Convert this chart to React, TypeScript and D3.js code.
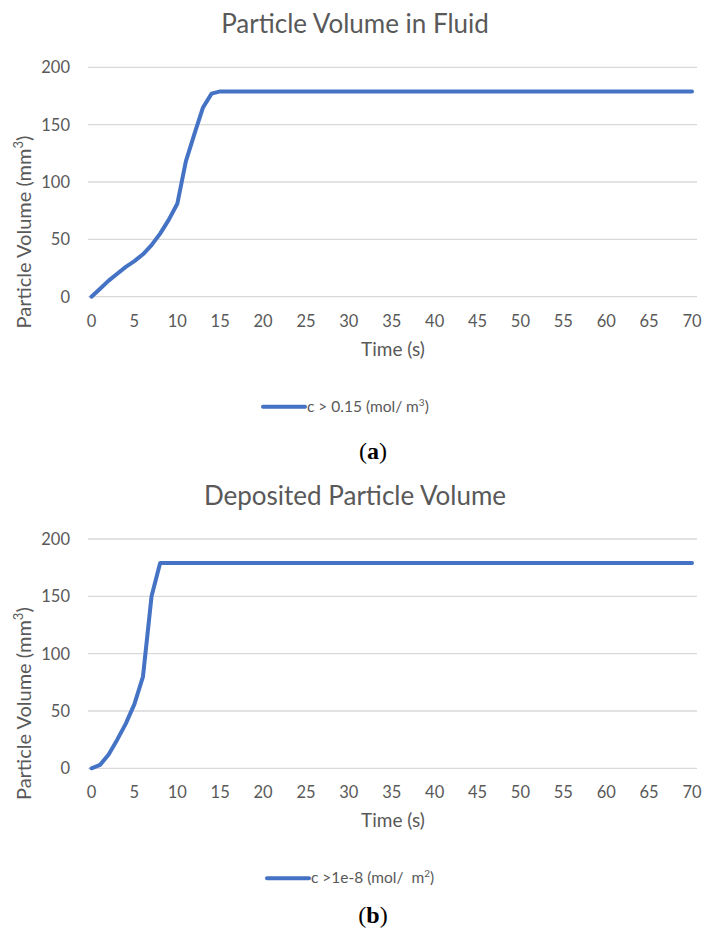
import React from "react";
import * as d3 from "d3";

// panel (a): particle volume in fluid
const fluidTime = [0, 1, 2, 3, 4, 5, 6, 7, 8, 9, 10, 11, 12, 13, 14, 15, 20, 25, 30, 35, 40, 45, 50, 55, 60, 65, 70];
const fluidVolume = [0, 7, 14, 20, 26, 31, 37, 45, 55, 67, 81, 118, 142, 165, 177, 179, 179, 179, 179, 179, 179, 179, 179, 179, 179, 179, 179];

// panel (b): deposited particle volume
const depositTime = [0, 1, 2, 3, 4, 5, 6, 7, 8, 10, 15, 20, 25, 30, 35, 40, 45, 50, 55, 60, 65, 70];
const depositVolume = [0, 3, 12, 25, 39, 56, 80, 150, 179, 179, 179, 179, 179, 179, 179, 179, 179, 179, 179, 179, 179, 179];

const xTicks = [0, 5, 10, 15, 20, 25, 30, 35, 40, 45, 50, 55, 60, 65, 70];
const yTicks = [0, 50, 100, 150, 200];

const BLUE = "#4472C4";
const GREY = "#595959";
const FONT = "Lato, 'Open Sans', sans-serif";

type PanelProps = {
  top: number; // y pixel of value 200
  bottom: number; // y pixel of value 0
  title: string;
  times: number[];
  values: number[];
  legend: React.ReactNode;
  legendX: number;
  caption: string;
};

function Panel({ top, bottom, title, times, values, legend, legendX, caption }: PanelProps) {
  const x = d3.scaleLinear().domain([0, 70]).range([91.5, 692]);
  const y = d3.scaleLinear().domain([0, 200]).range([bottom, top]);
  const line = d3
    .line<number>()
    .x((_, i) => x(times[i]))
    .y(d => y(d));

  const legendY = bottom + 110;

  return (
    <g>
      <text x={355} y={top - 34} textAnchor="middle" fontFamily={FONT} fontSize={26} fill={GREY}>
        {title}
      </text>
      {yTicks.map(t => (
        <g key={t}>
          <line x1={88} x2={697} y1={y(t)} y2={y(t)} stroke="#d9d9d9" strokeWidth={1.3} />
          <text x={70} y={y(t) + 6} textAnchor="end" fontFamily={FONT} fontSize={16.5} fill={GREY}>
            {t}
          </text>
        </g>
      ))}
      {xTicks.map(t => (
        <text key={t} x={x(t)} y={bottom + 30} textAnchor="middle" fontFamily={FONT} fontSize={16.5} fill={GREY}>
          {t}
        </text>
      ))}
      <text x={393} y={bottom + 59} textAnchor="middle" fontFamily={FONT} fontSize={19} fill={GREY}>
        Time (s)
      </text>
      <text
        transform={`translate(31, ${(top + bottom) / 2 + 50}) rotate(-90)`}
        textAnchor="middle"
        fontFamily={FONT}
        fontSize={20}
        fill={GREY}
      >
        Particle Volume (mm<tspan fontSize={13} dy={-8}>3</tspan>
        <tspan dy={8}>)</tspan>
      </text>
      <path d={line(values) || ""} fill="none" stroke={BLUE} strokeWidth={4} strokeLinejoin="round" strokeLinecap="round" />
      <line x1={legendX} x2={legendX + 42} y1={legendY} y2={legendY} stroke={BLUE} strokeWidth={4} strokeLinecap="round" />
      <text x={legendX + 44} y={legendY + 5} fontFamily={FONT} fontSize={15.5} fill={GREY}>
        {legend}
      </text>
      <text
        x={373}
        y={legendY + (caption === "(a)" ? 52 : 45)}
        textAnchor="middle"
        fontFamily="'Liberation Serif', serif"
        fontSize={24}
        fill="#000"
      >
        (<tspan fontWeight="bold">{caption.slice(1, -1)}</tspan>)
      </text>
    </g>
  );
}

export default function App() {
  return (
    <svg width={705} height={928} style={{ position: "absolute", left: 0, top: 0, background: "#fff" }}>
      <Panel
        top={67.3}
        bottom={296.7}
        title="Particle Volume in Fluid"
        times={fluidTime}
        values={fluidVolume}
        legendX={263}
        caption="(a)"
        legend={
          <>
            c &gt; 0.15 (mol/ m<tspan fontSize={10} dy={-6}>3</tspan>
            <tspan dy={6}>)</tspan>
          </>
        }
      />
      <Panel
        top={539}
        bottom={768.3}
        title="Deposited Particle Volume"
        times={depositTime}
        values={depositVolume}
        legendX={267}
        caption="(b)"
        legend={
          <>
            c &gt;1e-8 (mol/{"\u00a0\u00a0"}m<tspan fontSize={10} dy={-6}>2</tspan>
            <tspan dy={6}>)</tspan>
          </>
        }
      />
    </svg>
  );
}
